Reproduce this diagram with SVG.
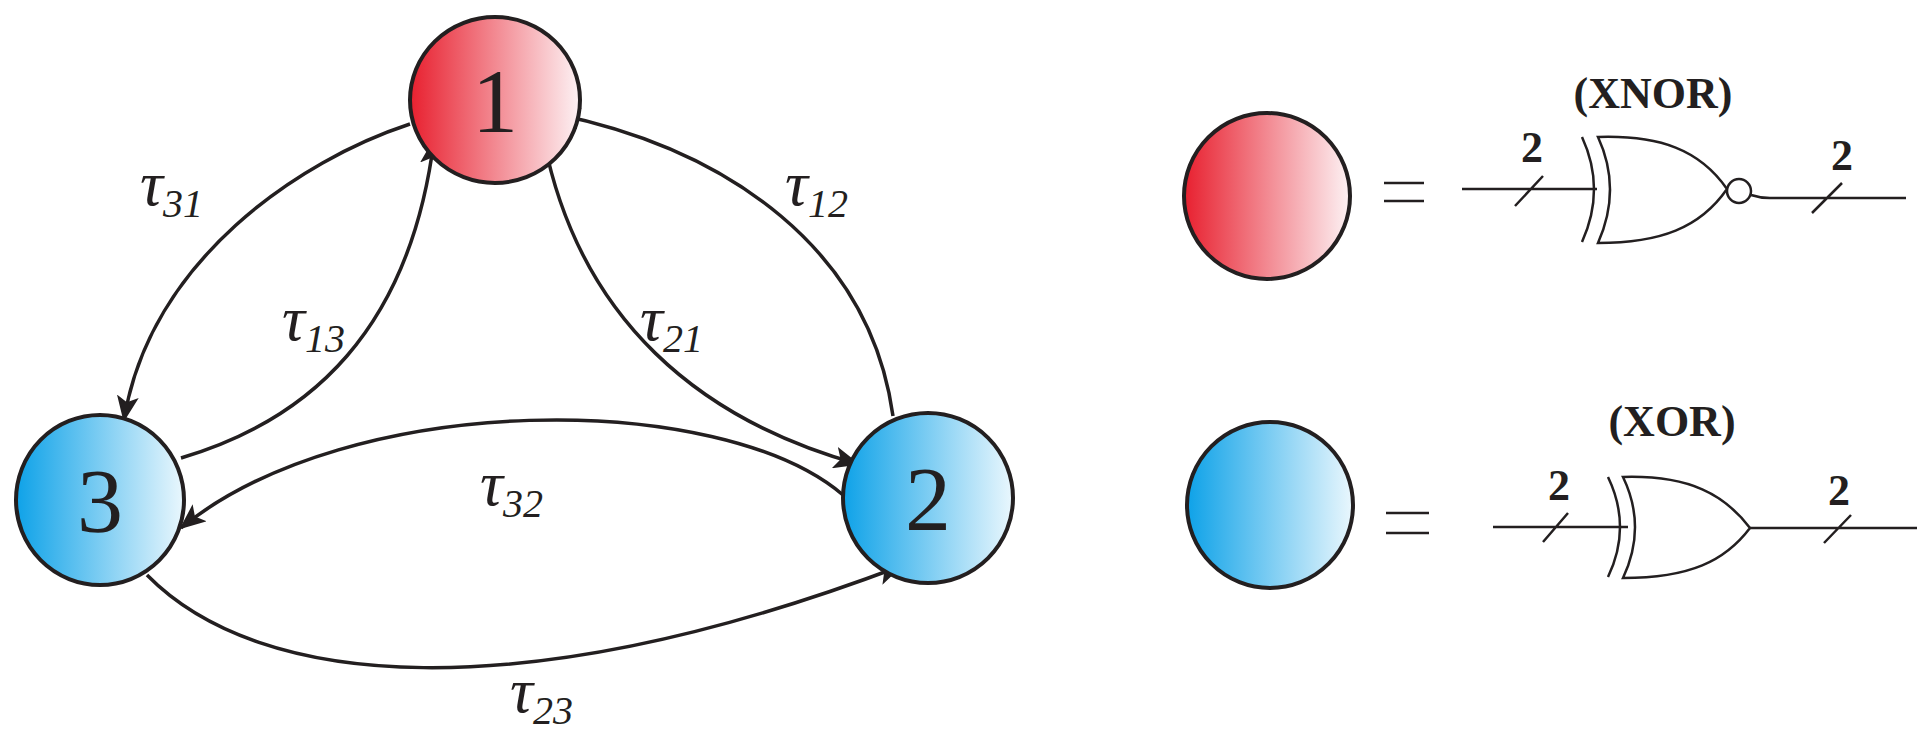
<svg xmlns="http://www.w3.org/2000/svg" width="1917" height="755" viewBox="0 0 1917 755">
<defs>
<linearGradient id="red" x1="0" y1="0" x2="1" y2="0"><stop offset="0" stop-color="#e8202f"/><stop offset="1" stop-color="#fdf2f4"/></linearGradient>
<linearGradient id="blue" x1="0" y1="0" x2="1" y2="0"><stop offset="0" stop-color="#0ea2e8"/><stop offset="1" stop-color="#eaf7fd"/></linearGradient>
<marker id="ah" markerUnits="userSpaceOnUse" markerWidth="26" markerHeight="22" refX="24" refY="11" orient="auto"><path d="M0,0 L26,11 L0,22 L6,11 Z" fill="#231f20"/></marker>
<style>
.node{stroke:#231f20;stroke-width:4}
.num{font-family:"Liberation Serif",serif;font-size:92px;fill:#231f20;text-anchor:middle}
.tau{font-family:"Liberation Serif",serif;font-style:italic;font-size:64px;fill:#231f20}
.sub{font-size:40px}
.edge{fill:none;stroke:#231f20;stroke-width:3.5;marker-end:url(#ah)}
.wire{fill:none;stroke:#231f20;stroke-width:2.5}
.gate{fill:#fff;stroke:#231f20;stroke-width:2.5}
.lbl{font-family:"Liberation Serif",serif;font-weight:bold;font-size:44px;fill:#231f20;text-anchor:middle}
</style>
</defs>
<g id="connectors">
<path class="edge" d="M410,124 C300,160 150,260 124,420"/>
<path class="edge" d="M181,458 C310,420 410,330 434,140"/>
<path class="edge" d="M544,141 C580,320 700,420 858,464"/>
<path class="edge" d="M893,416 C870,250 730,150 556,114"/>
<path class="edge" d="M843,495 C720,390 350,390 181,528"/>
<path class="edge" d="M147,575 C260,690 520,710 901,566"/>
</g>
<g id="node1"><ellipse class="node" cx="495" cy="100" rx="85" ry="83" fill="url(#red)"/><text class="num" x="495" y="132">1</text></g>
<g id="node2"><ellipse class="node" cx="928" cy="498" rx="85" ry="85" fill="url(#blue)"/><text class="num" x="928" y="530">2</text></g>
<g id="node3"><ellipse class="node" cx="100" cy="500" rx="84" ry="85" fill="url(#blue)"/><text class="num" x="100" y="532">3</text></g>
<g id="labels">
<text class="tau" x="140" y="205">τ<tspan class="sub" dy="12">31</tspan></text>
<text class="tau" x="282" y="340">τ<tspan class="sub" dy="12">13</tspan></text>
<text class="tau" x="640" y="340">τ<tspan class="sub" dy="12">21</tspan></text>
<text class="tau" x="785" y="205">τ<tspan class="sub" dy="12">12</tspan></text>
<text class="tau" x="480" y="505">τ<tspan class="sub" dy="12">32</tspan></text>
<text class="tau" x="510" y="712">τ<tspan class="sub" dy="12">23</tspan></text>
</g>
<g id="legend-xnor">
<ellipse class="node" cx="1267" cy="196" rx="83" ry="83" fill="url(#red)"/>
<path class="wire" d="M1384,183 H1424 M1384,201 H1424" stroke-width="4"/>
<text class="lbl" x="1653" y="108">(XNOR)</text>
<path class="wire" d="M1462,189 H1597 M1515,206 L1543,176"/>
<text class="lbl" x="1532" y="162">2</text>
<path class="wire" d="M1582,137 Q1606,189 1582,242"/>
<path class="gate" d="M1598,137 C1660,135 1700,150 1727,189 C1700,228 1660,243 1598,243 Q1622,189 1598,137 Z"/>
<circle class="gate" cx="1739" cy="191" r="12"/>
<path class="wire" d="M1751,195 Q1760,198 1770,198 H1906 M1812,213 L1842,183"/>
<text class="lbl" x="1842" y="170">2</text>
</g>
<g id="legend-xor">
<ellipse class="node" cx="1270" cy="505" rx="83" ry="83" fill="url(#blue)"/>
<path class="wire" d="M1386,513 H1429 M1386,533 H1429" stroke-width="4"/>
<text class="lbl" x="1672" y="436">(XOR)</text>
<path class="wire" d="M1493,527 H1628 M1543,542 L1568,513"/>
<text class="lbl" x="1559" y="500">2</text>
<path class="wire" d="M1608,477 Q1632,527 1608,577"/>
<path class="gate" d="M1623,477 C1690,475 1725,495 1750,528 C1725,561 1690,578 1623,578 Q1647,527 1623,477 Z"/>
<path class="wire" d="M1750,528 H1917 M1824,543 L1851,515"/>
<text class="lbl" x="1839" y="505">2</text>
</g>
</svg>
